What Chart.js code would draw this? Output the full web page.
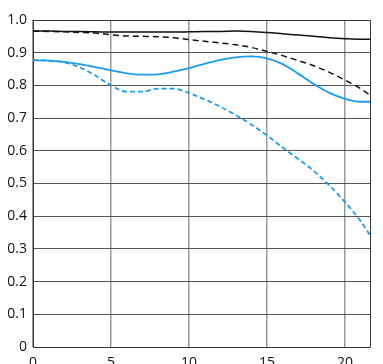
<!DOCTYPE html>
<html>
<head>
<meta charset="utf-8">
<script src="https://cdn.jsdelivr.net/npm/chart.js@4"></script>
<style>
  html, body { margin: 0; padding: 0; background: #fff; }
  #wrap { width: 383px; height: 364px; }
</style>
</head>
<body>
<div id="wrap"><canvas id="mtfChart"></canvas></div>
<script>
// image height positions (mm)
const xPositions = [0, 1, 2, 3, 4, 5, 6, 7, 8, 9, 10, 11, 12, 13, 14, 15, 16, 17, 18, 19, 20, 21, 21.6];

// contrast values
const blackSolid  = [0.966, 0.966, 0.965, 0.965, 0.964, 0.963, 0.963, 0.963, 0.963, 0.963, 0.964, 0.965, 0.965, 0.966, 0.965, 0.962, 0.958, 0.954, 0.95, 0.946, 0.943, 0.941, 0.941];
const blackDashed = [0.966, 0.965, 0.964, 0.962, 0.96, 0.955, 0.951, 0.95, 0.949, 0.946, 0.94, 0.935, 0.93, 0.924, 0.916, 0.904, 0.891, 0.876, 0.86, 0.84, 0.816, 0.79, 0.771];
const blueSolid   = [0.877, 0.876, 0.872, 0.865, 0.856, 0.846, 0.837, 0.833, 0.834, 0.842, 0.853, 0.866, 0.878, 0.886, 0.889, 0.883, 0.865, 0.836, 0.804, 0.777, 0.759, 0.75, 0.75];
const blueDashed  = [0.877, 0.876, 0.87, 0.855, 0.83, 0.8, 0.781, 0.781, 0.79, 0.79, 0.777, 0.757, 0.735, 0.709, 0.68, 0.647, 0.61, 0.575, 0.538, 0.494, 0.443, 0.385, 0.342];

const yTicks = [0, 0.1, 0.2, 0.3, 0.4, 0.5, 0.6, 0.7, 0.8, 0.9, 1.0];
const xTicks = [0, 5, 10, 15, 20];

function toPoints(values) {
  return values.map((v, i) => ({ x: xPositions[i], y: v }));
}

// draws the top and right frame lines
const frame = {
  id: 'frame',
  afterDraw(chart) {
    const a = chart.chartArea;
    const ctx = chart.ctx;
    ctx.save();
    ctx.strokeStyle = '#333';
    ctx.lineWidth = 1;
    ctx.beginPath();
    ctx.moveTo(a.left, a.top + 0.5);
    ctx.lineTo(a.right + 0.5, a.top + 0.5);
    ctx.lineTo(a.right + 0.5, a.bottom);
    ctx.stroke();
    ctx.restore();
  }
};

const blue = '#1b9cf2';

new Chart(document.getElementById('mtfChart').getContext('2d'), {
  type: 'line',
  data: {
    datasets: [
      { data: toPoints(blackSolid), borderColor: '#111', borderWidth: 1.5 },
      { data: toPoints(blackDashed), borderColor: '#111', borderWidth: 1.5, borderDash: [6, 4] },
      { data: toPoints(blueSolid), borderColor: blue, borderWidth: 1.8 },
      { data: toPoints(blueDashed), borderColor: blue, borderWidth: 1.8, borderDash: [5, 3] }
    ]
  },
  options: {
    responsive: true,
    maintainAspectRatio: false,
    animation: false,
    layout: { padding: { top: 20, right: 13, left: 0, bottom: 0 } },
    elements: {
      point: { radius: 0 },
      line: { cubicInterpolationMode: 'monotone', fill: false }
    },
    plugins: { legend: { display: false }, tooltip: { enabled: false } },
    scales: {
      x: {
        type: 'linear',
        min: 0,
        max: 21.6,
        afterBuildTicks: scale => { scale.ticks = xTicks.map(v => ({ value: v })); },
        afterFit: scale => { scale.height = 17; },
        ticks: { color: '#111', font: { family: 'Open Sans', size: 14 }, padding: 8, maxRotation: 0 },
        grid: { color: '#999', lineWidth: 1.5, drawTicks: false },
        border: { color: '#333', width: 1 }
      },
      y: {
        min: 0,
        max: 1,
        afterBuildTicks: scale => { scale.ticks = yTicks.map(v => ({ value: v })); },
        afterFit: scale => { scale.width = 33; },
        ticks: {
          color: '#111',
          font: { family: 'Open Sans', size: 14 },
          padding: 6,
          callback: v => (v === 0 ? '0' : v.toFixed(1))
        },
        grid: { color: '#555', lineWidth: 1, drawTicks: false },
        border: { color: '#333', width: 1 }
      }
    }
  },
  plugins: [frame]
});
</script>
</body>
</html>
